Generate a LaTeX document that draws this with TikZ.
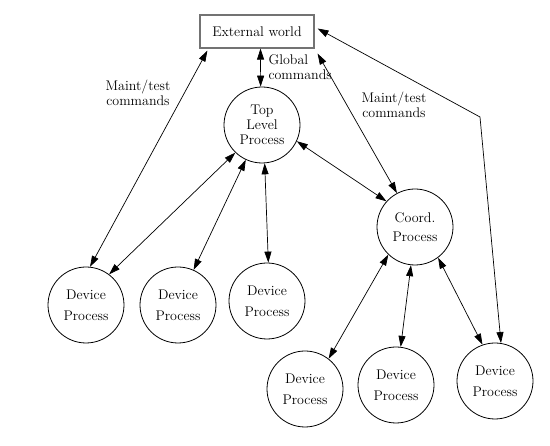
\documentclass[tikz,border=0pt]{standalone}
\usepackage{fontspec}
\usetikzlibrary{arrows.meta}

\tikzset{
  proc/.style={circle, draw, line width=0.8pt, minimum size=76pt, inner sep=0pt, align=center, font=\fontsize{14}{21}\selectfont},
  extbox/.style={draw=black!55, line width=1.2pt, minimum width=114pt, minimum height=33pt, font=\fontsize{14}{17}\selectfont},
  lbl/.style={align=center, font=\fontsize{14}{15}\selectfont},
  link/.style={line width=0.7pt, {Triangle[length=11pt,width=7pt]}-{Triangle[length=11pt,width=7pt]}}
}

\begin{document}
\begin{tikzpicture}[x=1pt,y=-1pt]
    \useasboundingbox (0,0) rectangle (550,446);
    % outside world
    \node[extbox] (ext) at (257,31.5) {External world};
    % top level and coordinating process
    \node[proc, font=\fontsize{14}{15}\selectfont] (top) at (262,125) {Top\\Level\\Process};
    \node[proc, font=\fontsize{14}{19}\selectfont] (coord) at (415,227) {Coord.\\Process};
    % devices under the top level
    \foreach \n/\x/\y in {1/86/305,2/178/305,3/267/301} {\node[proc] (d\n) at (\x,\y) {Device\\Process};}
    % devices under the coordinator
    \foreach \n/\x/\y in {4/305/389,5/396/385,6/495/381} {\node[proc] (d\n) at (\x,\y) {Device\\Process};}
    % commands from outside
    \draw[link] ([xshift=8pt,yshift=-2pt]ext.south west) -- (d1.84);
    \draw[link] ([xshift=3.5pt]ext.south) -- (top.92);
    \draw[link] ([xshift=3pt,yshift=-5pt]ext.south east) -- (coord.118);
    \coordinate (bend) at (480,117);
    \draw[link] ([xshift=3pt,yshift=3pt]ext.east) -- (bend) -- (d6.81);
    % top level links
    \foreach \a/\b/\d in {226/53/1,245/66/2,274/88/3} {\draw[link] (top.\a) -- (d\d.\b);}
    \draw[link] (top.-25) -- (coord.138);
    % coordinator links
    \foreach \a/\b/\d in {226/52/4,264/83/5,307/109/6} {\draw[link] (coord.\a) -- (d\d.\b);}
    % labels
    \node[lbl] (mt1) at (138,93) {Maint/test\\commands};
    \node[lbl, align=left, anchor=west] (gc) at (265,67) {Global\\commands};
    \node[lbl] (mt2) at (394,105) {Maint/test\\commands};
\end{tikzpicture}
\end{document}
